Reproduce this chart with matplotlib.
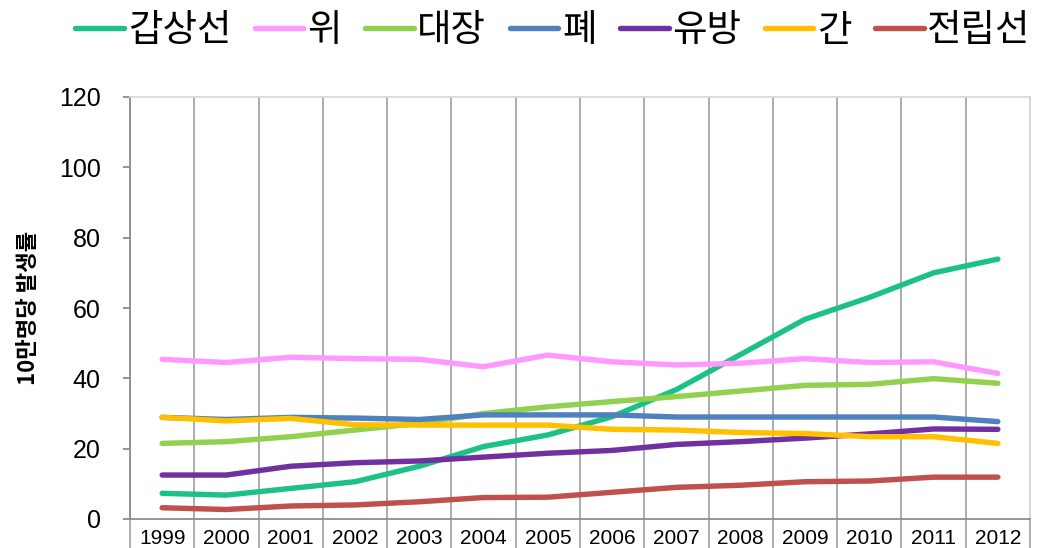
import matplotlib
matplotlib.use("Agg")
import matplotlib.pyplot as plt
from matplotlib.ticker import FixedLocator

plt.rcParams['font.family'] = ['Noto Sans CJK KR', 'DejaVu Sans']

years = ['1999', '2000', '2001', '2002', '2003', '2004', '2005',
         '2006', '2007', '2008', '2009', '2010', '2011', '2012']

thyroid = [7.3, 6.8, 8.7, 10.6, 15.0, 20.6, 23.9, 29.1, 36.8, 46.8, 56.8, 63.0, 70.0, 73.9]
stomach = [45.4, 44.5, 46.0, 45.6, 45.4, 43.3, 46.6, 44.7, 43.8, 44.3, 45.6, 44.5, 44.7, 41.4]
colon = [21.5, 22.0, 23.4, 25.3, 27.2, 30.0, 31.9, 33.4, 34.8, 36.4, 38.0, 38.3, 39.9, 38.6]
lung = [28.9, 28.3, 28.9, 28.7, 28.3, 29.6, 29.6, 29.6, 29.0, 29.0, 29.0, 29.0, 29.0, 27.7]
breast = [12.5, 12.5, 15.0, 16.0, 16.5, 17.6, 18.7, 19.5, 21.2, 22.0, 23.0, 24.2, 25.6, 25.5]
liver = [28.9, 27.9, 28.6, 26.8, 26.7, 26.7, 26.7, 25.5, 25.3, 24.6, 24.3, 23.4, 23.4, 21.5]
prostate = [3.2, 2.7, 3.7, 4.0, 4.9, 6.1, 6.2, 7.6, 9.0, 9.6, 10.6, 10.8, 11.9, 11.9]

series_names = ['갑상선', '위', '대장', '폐', '유방', '간', '전립선']
series_values = [thyroid, stomach, colon, lung, breast, liver, prostate]
colors = ['#1CC285', '#FF99FF', '#92D050', '#4F81BD', '#7030A0', '#FFC000', '#C0504D']

yticks = [0, 20, 40, 60, 80, 100, 120]

fig = plt.figure(figsize=(10.42, 5.48), dpi=100)
ax = fig.add_axes([130/1042, (548-519)/548, 900/1042, (519-97)/548])

x = list(range(len(years)))
handles = []
for name, vals, c in zip(series_names, series_values, colors):
    h, = ax.plot(x, vals, color=c, lw=3.9, solid_capstyle='round',
                 solid_joinstyle='round', label=name, zorder=3)
    handles.append(h)

ax.set_xlim(-0.5, len(years) - 0.5)
ax.set_ylim(0, 120)

# boundaries as major ticks (grid + long ticks), centers as minor ticks with labels
ax.xaxis.set_major_locator(FixedLocator([i - 0.5 for i in range(len(years) + 1)]))
ax.xaxis.set_minor_locator(FixedLocator(x))
ax.set_xticklabels([''] * (len(years) + 1))
ax.set_xticklabels(years, minor=True, family=['Liberation Sans', 'DejaVu Sans'],
                   fontsize=15)
ax.tick_params(axis='x', which='major', direction='out', length=24, width=1.3, color='#a6a6a6')
ax.tick_params(axis='x', which='minor', length=0, pad=7)
ax.grid(axis='x', which='major', color='#a6a6a6', lw=1.3, zorder=1)

ax.set_yticks(yticks)
ax.set_yticklabels([str(v) for v in yticks], family=['Liberation Sans', 'DejaVu Sans'], fontsize=18)
ax.tick_params(axis='y', direction='out', length=5, width=1.3, color='#8c8c8c', pad=16)

for s in ['left', 'bottom']:
    ax.spines[s].set_color('#8c8c8c')
    ax.spines[s].set_linewidth(1.3)
for s in ['top', 'right']:
    ax.spines[s].set_color('#d9d9d9')
    ax.spines[s].set_linewidth(1.3)

ax.set_ylabel('10만명당 발생률', fontsize=16, fontweight='bold', labelpad=14)

fig.legend(handles=handles, labels=series_names, loc='center', bbox_to_anchor=(553/1042, 1 - 31/548),
           ncol=7, frameon=False, fontsize=27, handlelength=1.3, handletextpad=0.1,
           columnspacing=0.62, borderpad=0)

fig.savefig('out.png', dpi=100)
